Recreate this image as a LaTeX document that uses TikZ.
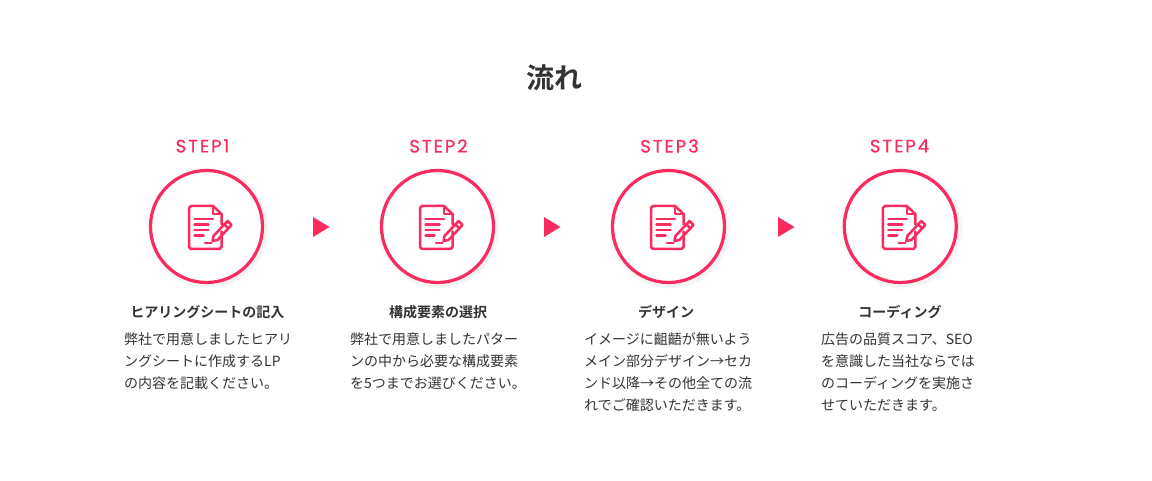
\documentclass[tikz,border=0pt]{standalone}
\usepackage{fontspec}
\setmainfont{Noto Sans CJK JP}[BoldFont={* Bold}]
\newfontfamily\stepfont[LetterSpace=11,FakeBold=0.6]{Poppins}
\definecolor{pink}{HTML}{F92B5F}
\definecolor{ink}{HTML}{333333}
\tikzset{
  x=1pt,y=-1pt,
  stepcircle/.style={circle,draw=pink,line width=3.2pt,minimum size=112pt,inner sep=0pt,fill=white},
  steplabel/.style={text=pink,font=\stepfont\fontsize{18}{18}\selectfont,inner sep=0pt,anchor=center},
  headlabel/.style={text=ink,font=\bfseries\fontsize{14}{14}\selectfont,inner sep=0pt,anchor=center},
  bodytext/.style={text=ink,font=\fontsize{14}{22}\selectfont,inner sep=0pt,anchor=north west,align=left},
  nexttri/.style={fill=pink,draw=none},
  docicon/.pic={
    \begin{scope}[draw=pink,line width=2.5pt,line cap=round,line join=round,x=1pt,y=-1pt]
      \draw (15,-2) -- (15,-12.5) -- (6.5,-20.5) -- (-15.5,-20.5) -- (-17.5,-18.5) -- (-17.5,20.5) -- (-15.5,22.5) -- (13,22.5) -- (15,20.5) -- (15,5);
      \draw (6.5,-20.5) -- (6.5,-12.5) -- (15,-12.5);
      \draw (-12,-7.5) -- (6.5,-7.5);
      \draw (-12,-2) -- (2,-2);
      \draw (-12,3.5) -- (2,3.5);
      \draw (-12,9) -- (-3,9);
      \draw (-1.5,16.5) -- (5,16.5);
      \draw (7,9.5) -- (21,-5.5) -- (25,-1.5) -- (11,13.5) -- (6,14.5) -- cycle;
      \draw (18,-2) -- (22,2);
    \end{scope}
  }
}
\begin{document}
\begin{tikzpicture}
\useasboundingbox (0,0) rectangle (1152,481);
\fill[white] (0,0) rectangle (1152,481);
\node[text=ink,font=\bfseries\fontsize{28}{28}\selectfont,inner sep=0pt] (title) at (554,78) {流れ};
% soft shadows
\foreach \cx in {206.5,437.5,668.5,900.3}{
  \foreach \r in {61,60,59}{
    \fill[black,opacity=0.014] (\cx+1.5,228) circle[radius=\r];
  }
}
% steps
\node[steplabel] (s1) at (202.5,146) {STEP1};
\node[steplabel] (s2) at (438.5,146) {STEP2};
\node[steplabel] (s3) at (669.5,146) {STEP3};
\node[steplabel] (s4) at (899.5,146) {STEP4};
\node[stepcircle] (c1) at (206.5,226.5) {};
\node[stepcircle] (c2) at (437.5,226.5) {};
\node[stepcircle] (c3) at (668.5,226.5) {};
\node[stepcircle] (c4) at (900.3,226.5) {};
\pic at (c1.center) {docicon};
\pic at (c2.center) {docicon};
\pic at (c3.center) {docicon};
\pic at (c4.center) {docicon};
\fill[nexttri] (313,217) -- (329.5,227) -- (313,237) -- cycle;
\fill[nexttri] (544,217) -- (560.5,227) -- (544,237) -- cycle;
\fill[nexttri] (778,217) -- (794.5,227) -- (778,237) -- cycle;
\node[headlabel] (h1) at (207.3,312) {ヒアリングシートの記入};
\node[headlabel] (h2) at (438,312) {構成要素の選択};
\node[headlabel] (h3) at (666,312) {デザイン};
\node[headlabel] (h4) at (900,312) {コーディング};
\node[bodytext] (b1) at (124,332.3) {弊社で用意しましたヒアリ\\ングシートに作成するLP\\の内容を記載ください。};
\node[bodytext] (b2) at (350,332.3) {弊社で用意しましたパター\\ンの中から必要な構成要素\\を5つまでお選びください。};
\node[bodytext] (b3) at (584,332.3) {イメージに齟齬が無いよう\\メイン部分デザイン→セカ\\ンド以降→その他全ての流\\れでご確認いただきます。};
\node[bodytext] (b4) at (821,332.3) {広告の品質スコア、SEO\\を意識した当社ならでは\\のコーディングを実施さ\\せていただきます。};
\end{tikzpicture}
\end{document}
